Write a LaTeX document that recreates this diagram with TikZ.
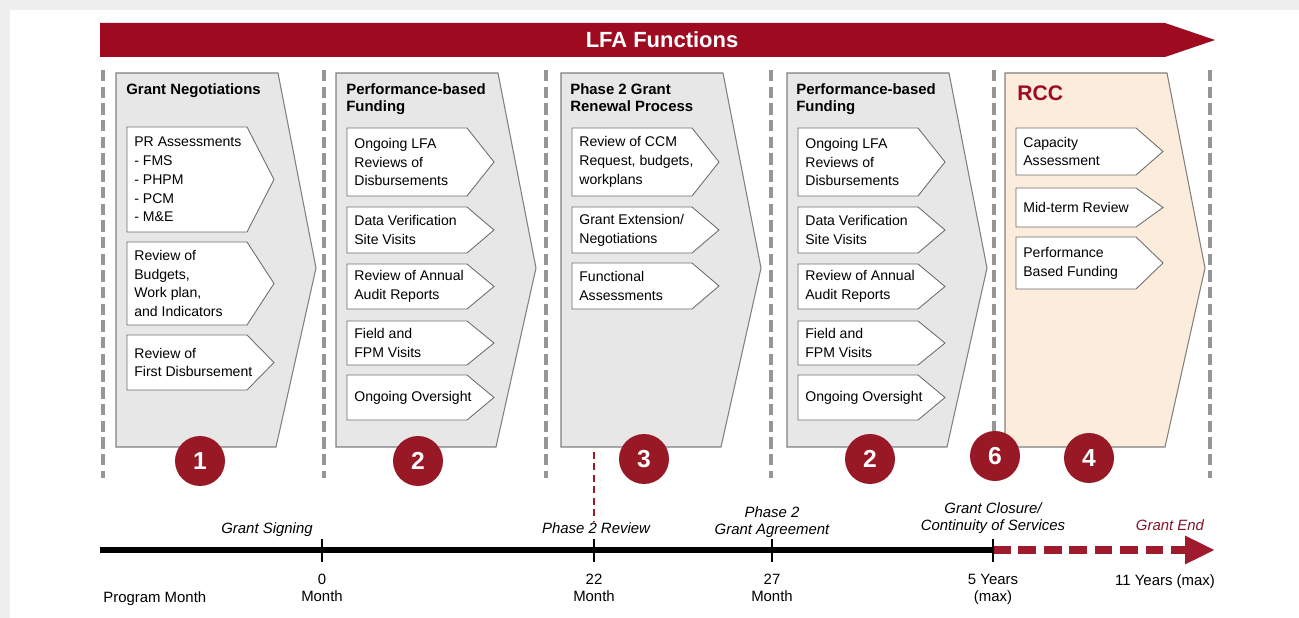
\documentclass[tikz,border=0pt]{standalone}
\usepackage{fontspec}
\setmainfont{Liberation Sans}
\usetikzlibrary{arrows.meta,positioning}
\definecolor{pagegray}{RGB}{238,238,238}
\definecolor{bannerred}{RGB}{158,10,32}
\definecolor{dotred}{RGB}{152,24,38}
\definecolor{dashred}{RGB}{160,26,46}
\definecolor{endred}{RGB}{128,22,42}
\definecolor{colfill}{RGB}{231,231,231}
\definecolor{rccfill}{RGB}{252,236,219}
\definecolor{colline}{RGB}{128,128,128}
\definecolor{itemline}{RGB}{110,110,110}
\definecolor{sepgray}{RGB}{150,150,150}
\tikzset{
  colshape/.style={draw=colline, line width=0.6pt, fill=colfill},
  itemshape/.style={draw=itemline, line width=0.5pt, fill=white},
  itemtext/.style={anchor=west, align=left, inner sep=0pt,
    font=\fontsize{8}{10.7}\selectfont},
  coltitle/.style={anchor=north west, align=left, inner sep=0pt,
    font=\bfseries\fontsize{8.5}{9.8}\selectfont},
  numdot/.style={circle, fill=dotred, text=white, minimum size=1cm,
    inner sep=0pt, font=\bfseries\fontsize{14}{14}\selectfont},
  sepline/.style={draw=sepgray, line width=2.2pt, dash pattern=on 6.5pt off 3pt},
  tick/.style={line width=1.4pt},
  evlabel/.style={anchor=north, align=center, inner sep=0pt,
    font=\itshape\fontsize{8.5}{9.6}\selectfont},
  tlabel/.style={align=center, inner sep=0pt,
    font=\fontsize{8.5}{9.6}\selectfont}
}
% one white arrow box inside a column: name, column x, top, bottom, text
\newcommand\lfaitem[5]{%
  \draw[itemshape] (#2+11,#3) -- (#2+131,#3) -- (#2+158,{(#3+#4)/2})
    -- (#2+131,#4) -- (#2+11,#4) -- cycle;
  \node[itemtext] (#1) at (#2+18,{(#3+#4)/2}) {#5};}

\begin{document}
\begin{tikzpicture}[x=0.02cm, y=-0.02cm]
  \useasboundingbox (0,0) rectangle (1299,618);
  \fill[pagegray] (0,0) rectangle (1299,618);
  \fill[white] (10,10) rectangle (1299,618);

  % banner
  \fill[bannerred] (100,23) -- (1165,23) -- (1215,40) -- (1165,57) -- (100,57) -- cycle;
  \node[text=white, font=\bfseries\fontsize{12.5}{12.5}\selectfont] (lfa) at (662,40) {LFA Functions};

  % separators
  \foreach \x in {103,324,546,771,994,1210}
    \draw[sepline] (\x,70) -- (\x,478);

  % columns
  \foreach \cx/\fl in {116/colfill, 336/colfill, 561/colfill, 787/colfill, 1005/rccfill}
    \draw[colshape, fill=\fl] (\cx,73) -- ++(162,0) -- ++(38,195) -- (\cx+160,447) -- (\cx,447) -- cycle;

  \node[coltitle] (tA) at (126,83) {Grant Negotiations};
  \node[coltitle] (tB) at (346,83) {Performance-based\\Funding};
  \node[coltitle] (tC) at (570,83) {Phase 2 Grant\\Renewal Process};
  \node[coltitle] (tD) at (796,83) {Performance-based\\Funding};
  \node[coltitle, text=bannerred, font=\bfseries\fontsize{12}{12}\selectfont] (tE) at (1017,85) {RCC};

  % column 1
  \lfaitem{prA}{116}{127}{232}{PR Assessments\\- FMS\\- PHPM\\- PCM\\- M\&E}
  \lfaitem{budA}{116}{242}{325}{Review of\\Budgets,\\Work plan,\\and Indicators}
  \lfaitem{disA}{116}{335}{390}{Review of\\First Disbursement}
  % column 2
  \lfaitem{oglB}{336}{128}{196}{Ongoing LFA\\Reviews of\\Disbursements}
  \lfaitem{dvB}{336}{207}{253}{Data Verification\\Site Visits}
  \lfaitem{audB}{336}{264}{309}{Review of Annual\\Audit Reports}
  \lfaitem{fldB}{336}{321}{365}{Field and\\FPM Visits}
  \lfaitem{ovsB}{336}{375}{420}{Ongoing Oversight}
  % column 3
  \lfaitem{ccmC}{561}{128}{196}{Review of CCM\\Request, budgets,\\workplans}
  \lfaitem{extC}{561}{207}{253}{Grant Extension/\\Negotiations}
  \lfaitem{funC}{561}{263}{309}{Functional\\Assessments}
  % column 4
  \lfaitem{oglD}{787}{128}{196}{Ongoing LFA\\Reviews of\\Disbursements}
  \lfaitem{dvD}{787}{207}{253}{Data Verification\\Site Visits}
  \lfaitem{audD}{787}{264}{309}{Review of Annual\\Audit Reports}
  \lfaitem{fldD}{787}{321}{365}{Field and\\FPM Visits}
  \lfaitem{ovsD}{787}{375}{420}{Ongoing Oversight}
  % column 5
  \lfaitem{capE}{1005}{128}{175}{Capacity\\Assessment}
  \lfaitem{midE}{1005}{188}{227}{Mid-term Review}
  \lfaitem{pbfE}{1005}{237}{289}{Performance\\Based Funding}

  % events above the timeline
  \node[evlabel] (sign) at (267,522) {Grant Signing};
  \node[evlabel] (rev) at (596,522) {Phase 2 Review};
  \node[evlabel] (agr) at (772,506) {Phase 2\\Grant Agreement};
  \node[evlabel] (clos) at (993,502) {Grant Closure/\\Continuity of Services};
  \node[evlabel, text=endred] (gend) at (1170,519) {Grant End};

  % timeline
  \coordinate (tlstart) at (100,550);
  \coordinate (m0) at (322,550);
  \coordinate (m22) at (594,550);
  \coordinate (m27) at (772,550);
  \coordinate (m60) at (993,550);
  \coordinate (tlend) at (1215,550);
  \coordinate (p2top) at (594,452);

  \draw[dashred, line width=1.3pt, dash pattern=on 4pt off 2.5pt] (p2top) -- (m22 |- rev.north);
  \draw[line width=3.4pt] (tlstart) -- (m60);
  \draw[dashred, line width=4.5pt, dash pattern=on 10pt off 4.5pt,
    -{Triangle[length=17pt,width=15pt]}] (m60) -- (tlend);
  \foreach \m in {m0,m22,m27,m60}
    \draw[tick] (\m) ++(0,-11) -- ++(0,23);

  % numbers
  \node[numdot] (nA) at (200,461) {1};
  \node[numdot] (nB) at (418,461) {2};
  \node[numdot] (nC) at (644,459) {3};
  \node[numdot] (nD) at (870,459) {2};
  \node[numdot] (nF) at (995,456) {6};
  \node[numdot] (nE) at (1089,458) {4};

  % scale below the timeline
  \node[tlabel, anchor=base west] (prog) at (103,602) {Program Month};
  \node[tlabel, anchor=north, below=0.48cm of m0] (l0) {0\\Month};
  \node[tlabel, anchor=north, below=0.48cm of m22] (l22) {22\\Month};
  \node[tlabel, anchor=north, below=0.48cm of m27] (l27) {27\\Month};
  \node[tlabel, anchor=north, below=0.48cm of m60] (l60) {5 Years\\(max)};
  \node[tlabel, anchor=north] (l132) at (1165,574) {11 Years (max)};
\end{tikzpicture}
\end{document}
